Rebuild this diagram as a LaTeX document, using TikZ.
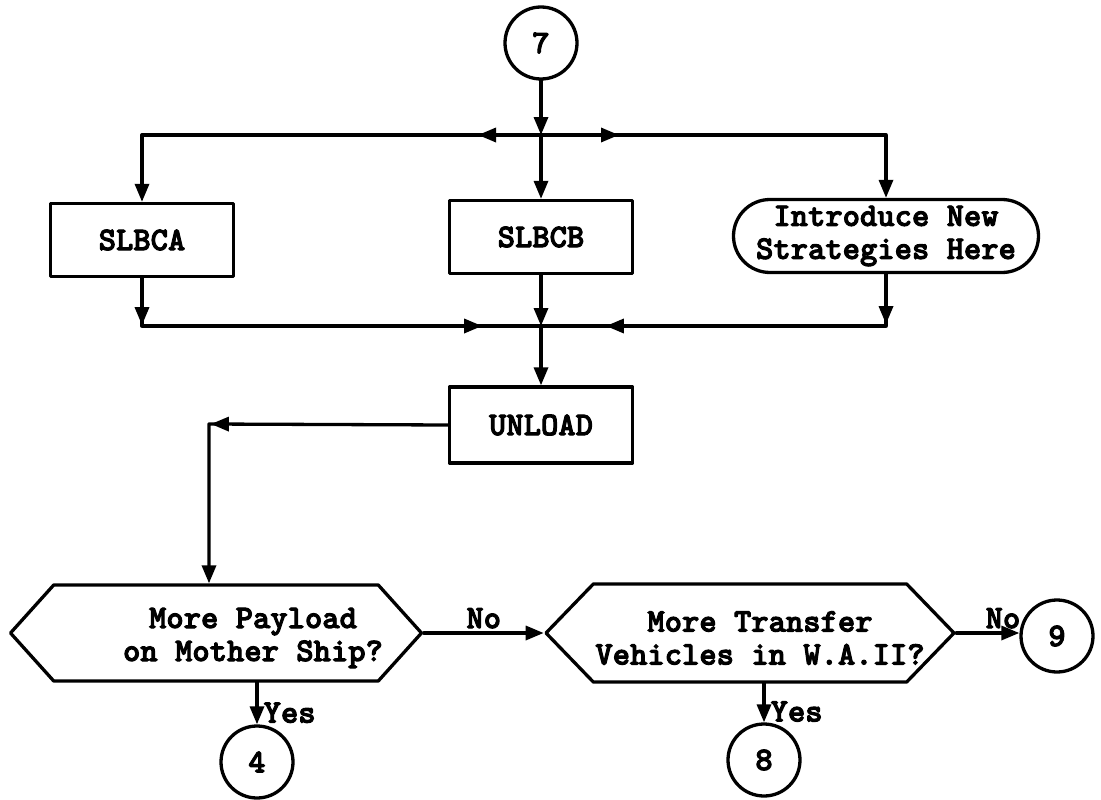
\documentclass[tikz,border=0pt]{standalone}
\usepackage{fontspec}
\newfontfamily\twfont{lmmonolt10-bold.otf}[FakeBold=3]
\usetikzlibrary{arrows.meta,shapes.misc,shapes.symbols,decorations.markings}

\newcommand{\flowfont}{\twfont\fontsize{33}{33}\selectfont}

\tikzset{
  ftip/.tip={Triangle[length=18pt,width=14pt]},
  ln/.style={line width=3.3pt, line cap=round, line join=round},
  arr/.style={ln, -ftip},
  marr/.style={ln, postaction={decorate},
    decoration={markings, mark=at position #1 with {\arrow{ftip}}}},
  marrr/.style 2 args={ln, postaction={decorate},
    decoration={markings, mark=at position #1 with {\arrow{ftip}},
                          mark=at position #2 with {\arrow{ftip}}}},
  conn/.style={circle, draw, ln, minimum size=72pt, inner sep=0pt, font=\flowfont},
  procbox/.style={rectangle, draw, ln, minimum width=183pt, minimum height=73pt,
    inner sep=0pt, font=\flowfont},
  termbox/.style={rounded rectangle, draw, ln, minimum width=305pt, minimum height=73pt,
    inner sep=0pt, align=center, font=\flowfont},
  decision/.style={signal, signal to=west and east, draw, ln, inner sep=0pt},
  qtext/.style={align=center, inner sep=0pt, font=\flowfont},
  lbl/.style={inner sep=0pt, font=\flowfont},
}

\begin{document}
\begin{tikzpicture}[x=1pt, y=-1pt]
\useasboundingbox (0,0) rectangle (1101,800);

% entry connector and distribution line
\node[conn] (c7) at (541,43) {7};
\coordinate (jt) at (541,135);
\coordinate (jb) at (541,326);

% strategy boxes
\node[procbox] (slbca) at (142,240) {SLBCA};
\node[procbox] (slbcb) at (541,237) {SLBCB};
\node[termbox] (intro) at (886,236) {Introduce New\\Strategies Here};
\node[procbox, minimum height=76pt] (unload) at (541,425) {UNLOAD};
\coordinate (bend) at (209,424);

% decisions
\node[decision, minimum width=411pt, minimum height=96pt, signal pointer angle=96] (q1) at (216,633) {};
\node[qtext] (q1t) at (253,638) {More Payload\\on Mother Ship?};
\node[decision, minimum width=408pt, minimum height=98pt, signal pointer angle=92] (q2) at (750,633) {};
\node[qtext] (q2t) at (760,638) {More Transfer\\Vehicles in W.A.II?};

% exit connectors
\node[conn] (c4) at (257,762) {4};
\node[conn] (c8) at (764,760) {8};
\node[conn] (c9) at (1057,636) {9};

% flow lines
\draw[arr] (c7) -- (jt);
\draw[arr] (jt) -- (slbcb);
\draw[arr, marr=63pt] (jt) -- (jt -| slbca.north) -- (slbca.north);
\draw[arr, marr=78pt] (jt) -- (jt -| intro.north) -- (intro.north);
\draw[marrr={47pt}{388pt}] (slbca.south) -- (slbca.south |- jb) -- (jb);
\draw[arr] (slbcb) -- (jb);
\draw[marrr={50pt}{332pt}] (intro.south) -- (intro.south |- jb) -- (jb);
\draw[arr] (jb) -- (unload);
\draw[arr, marr=237pt] (unload.west) -- (bend) -- (bend |- q1.north);
\draw[arr] (q1.east) -- (q2.west) node[lbl, midway, above=3pt] {No};
\draw[arr] (q2.east) -- (q2.east -| c9.west) node[lbl, pos=0.74, above=3pt] {No};
\draw[arr] (c4.north |- q1.south) -- (c4.north) node[lbl, pos=0.72, anchor=west, xshift=5pt] {Yes};
\draw[arr] (c8.north |- q2.south) -- (c8.north) node[lbl, pos=0.72, anchor=west, xshift=5pt] {Yes};
\end{tikzpicture}
\end{document}
